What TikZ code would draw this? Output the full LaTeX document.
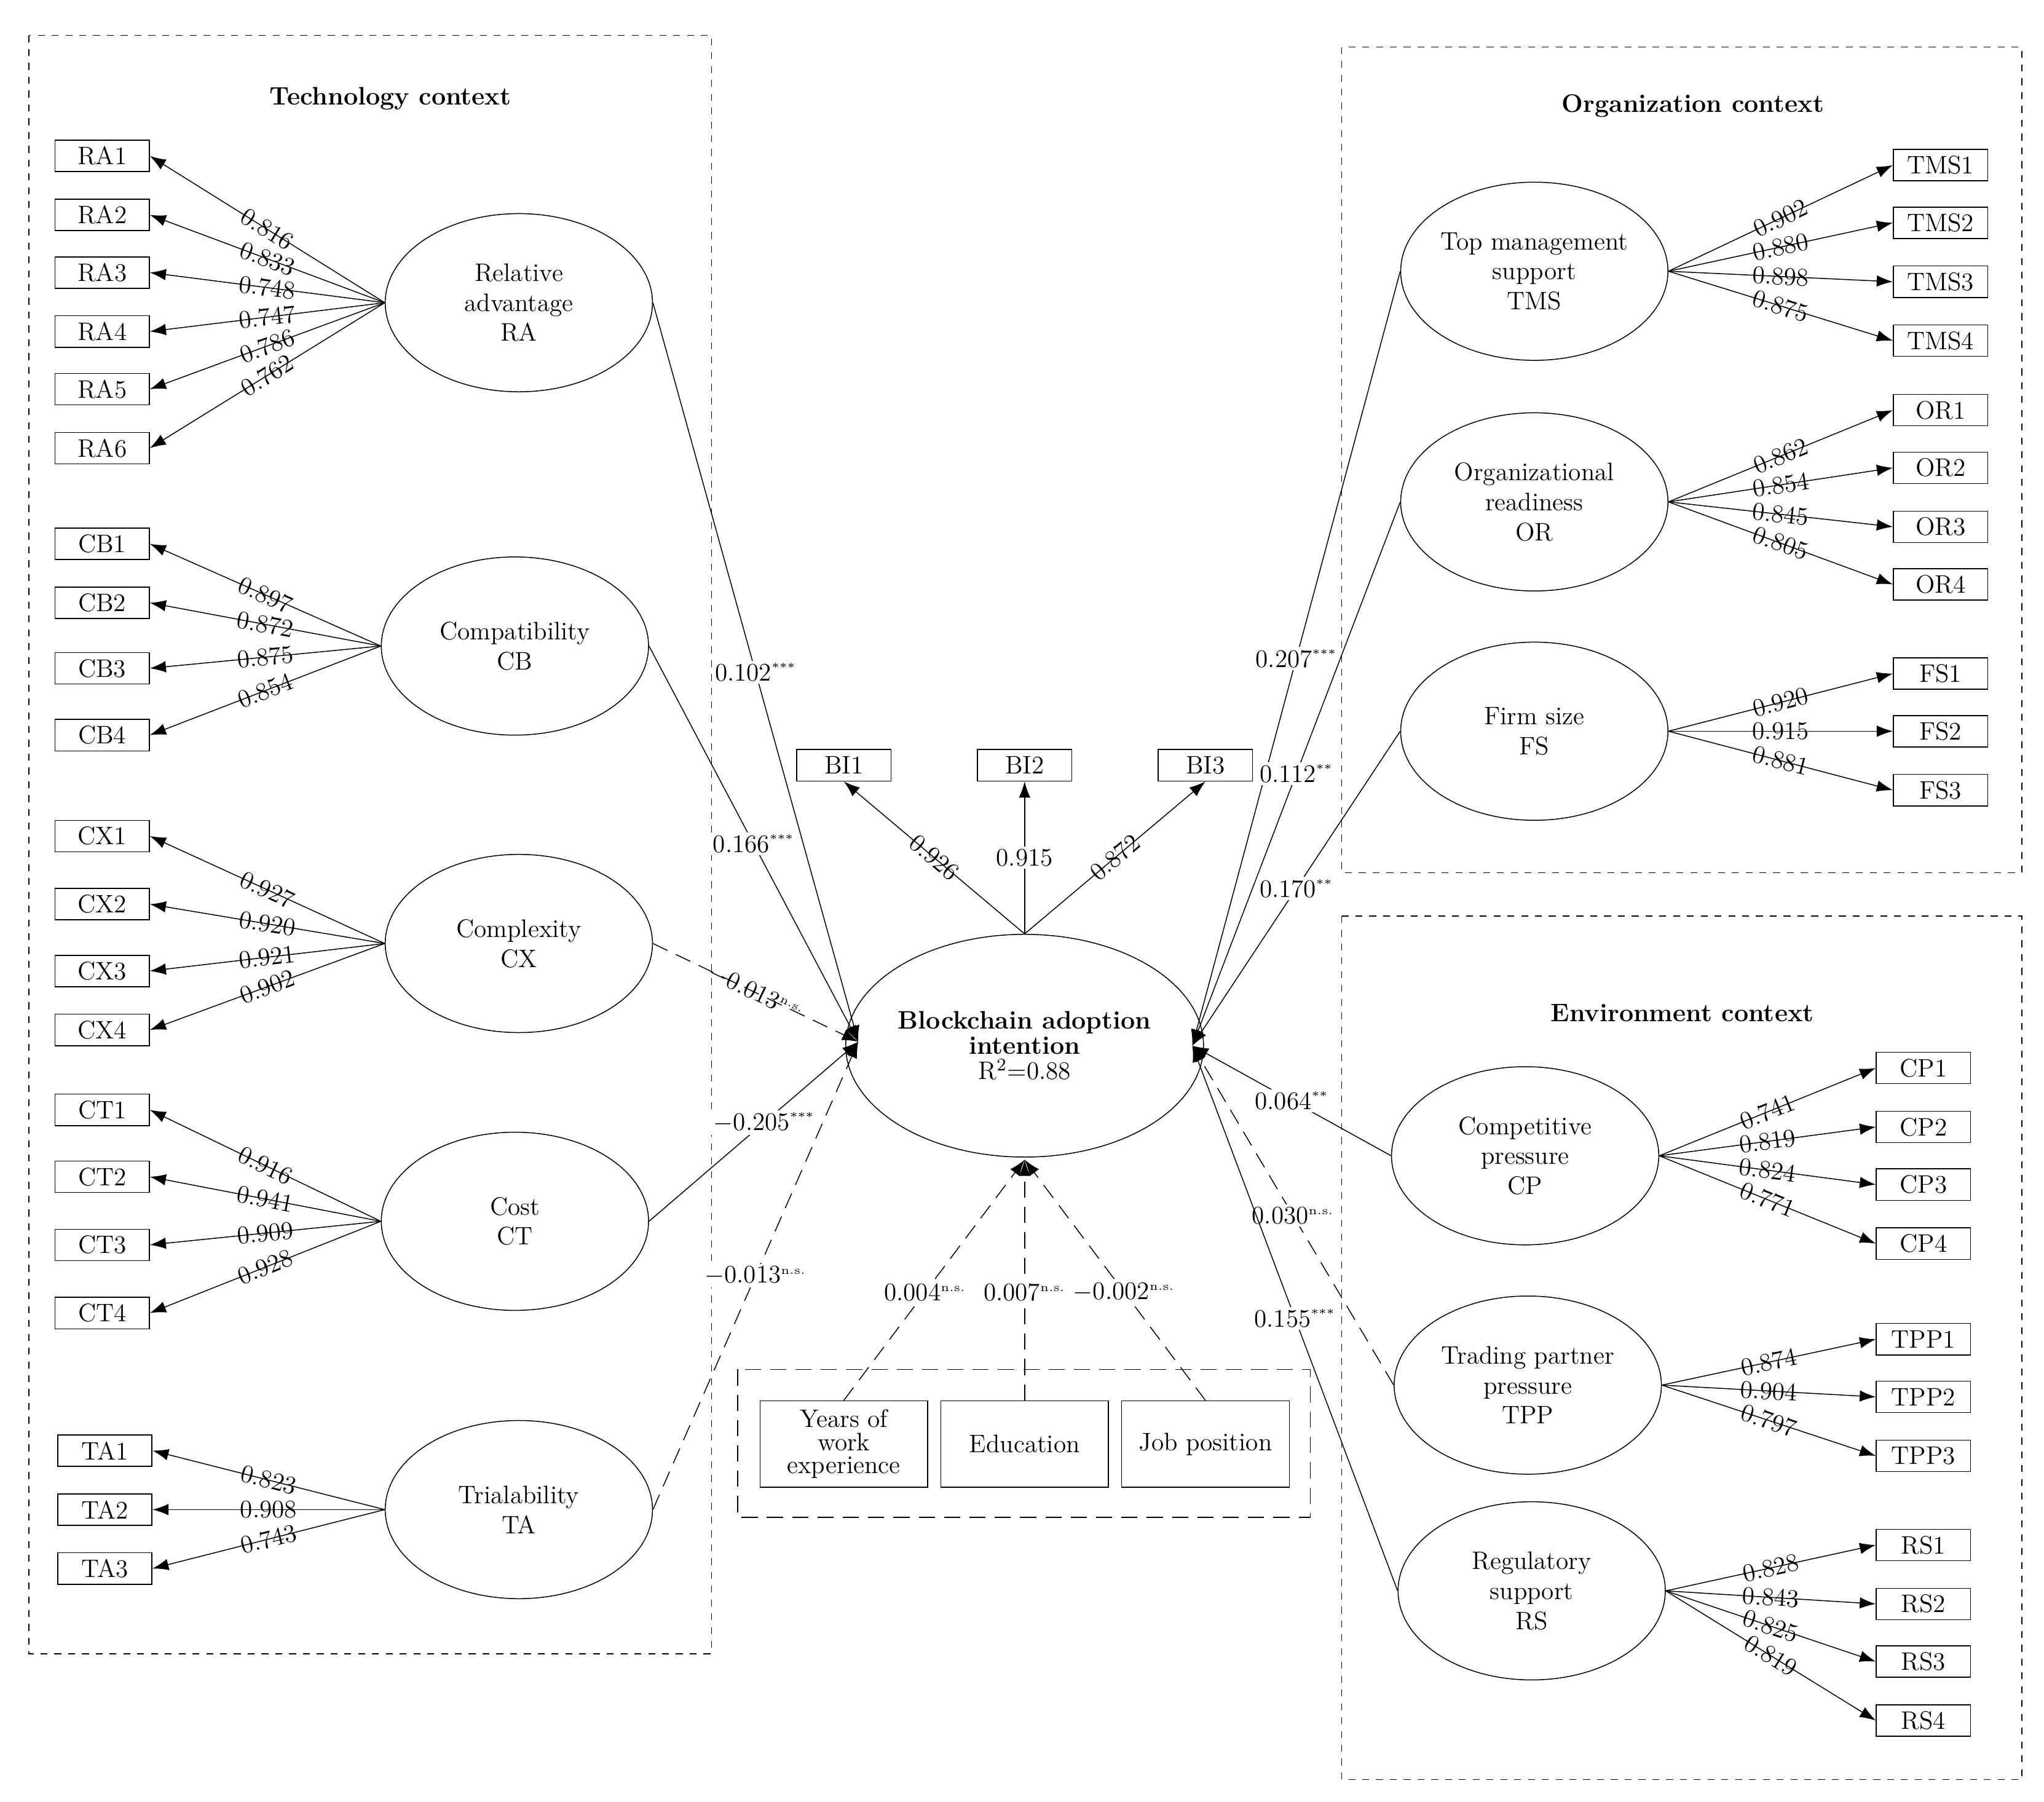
\documentclass[tikz,border=0pt]{standalone}
\usepackage{tikz}
\usetikzlibrary{arrows.meta,shapes.geometric}

\begin{document}
\begin{tikzpicture}[x=0.02cm,y=-0.02cm,>={Latex[length=7pt,width=5pt]},
    font=\fontsize{11}{13}\selectfont,
    ind/.style={draw,minimum width=1.44cm,minimum height=0.48cm,inner sep=1pt},
    lat/.style={draw,ellipse,minimum width=4.08cm,minimum height=2.72cm,align=center,inner sep=0pt},
    ctx/.style={draw,dashed},
    lod/.style={sloped,inner sep=0pt},
    ns/.style={dash pattern=on 7pt off 4pt},
    path/.style={fill=white,inner sep=1pt}]
  \useasboundingbox (0,0) rectangle (1560,1375);
  % context frames
  \draw[ctx] (22,27) rectangle (543,1262);
  \draw[ctx] (1024,36) rectangle (1543,666);
  \draw[ctx] (1024,699) rectangle (1543,1358);
  \draw[ns] (563,1045) rectangle (1000,1158);
  \node[font=\fontsize{11}{13}\selectfont\bfseries] at (298,75) {Technology context};
  \node[font=\fontsize{11}{13}\selectfont\bfseries] at (1292,81) {Organization context};
  \node[font=\fontsize{11}{13}\selectfont\bfseries] at (1284,773) {Environment context};

  % latent variables
  \node[lat] (RA) at (396,231) {Relative\\advantage\\RA};
  \node[lat] (CB) at (393,493) {Compatibility\\CB};
  \node[lat] (CX) at (396,720) {Complexity\\CX};
  \node[lat] (CT) at (393,932) {Cost\\CT};
  \node[lat] (TA) at (396,1152) {Trialability\\TA};
  \node[lat] (TMS) at (1171,207) {Top management\\support\\TMS};
  \node[lat] (OR) at (1171,383) {Organizational\\readiness\\OR};
  \node[lat] (FS) at (1171,558) {Firm size\\FS};
  \node[lat] (CP) at (1164,882) {Competitive\\pressure\\CP};
  \node[lat] (TPP) at (1166,1057) {Trading partner\\pressure\\TPP};
  \node[lat] (RS) at (1169,1214) {Regulatory\\support\\RS};
  \node[lat,minimum width=5.12cm,minimum height=3.4cm] (BI) at (782,798)
    {\textbf{Blockchain adoption}\\[-2pt]\textbf{intention}\\[-2pt]R\textsuperscript{2}=0.88};

  % indicators, left side
  \foreach \n/\y/\v in {1/119/0.816,2/164/0.833,3/208/0.748,4/253/0.747,5/297/0.786,6/342/0.762}
    {\node[ind] (RA\n) at (78,\y) {RA\n}; \draw[->] (RA.west) -- node[lod]{\v} (RA\n.east);}
  \foreach \n/\y/\v in {1/415/0.897,2/460/0.872,3/510/0.875,4/561/0.854}
    {\node[ind] (CB\n) at (78,\y) {CB\n}; \draw[->] (CB.west) -- node[lod]{\v} (CB\n.east);}
  \foreach \n/\y/\v in {1/638/0.927,2/690/0.920,3/741/0.921,4/786/0.902}
    {\node[ind] (CX\n) at (78,\y) {CX\n}; \draw[->] (CX.west) -- node[lod]{\v} (CX\n.east);}
  \foreach \n/\y/\v in {1/847/0.916,2/898/0.941,3/950/0.909,4/1002/0.928}
    {\node[ind] (CT\n) at (78,\y) {CT\n}; \draw[->] (CT.west) -- node[lod]{\v} (CT\n.east);}
  \foreach \n/\y/\v in {1/1107/0.823,2/1152/0.908,3/1197/0.743}
    {\node[ind] (TA\n) at (80,\y) {TA\n}; \draw[->] (TA.west) -- node[lod]{\v} (TA\n.east);}

  % indicators, right side
  \foreach \n/\y/\v in {1/126/0.902,2/170/0.880,3/215/0.898,4/260/0.875}
    {\node[ind] (TMS\n) at (1481,\y) {TMS\n}; \draw[->] (TMS.east) -- node[lod]{\v} (TMS\n.west);}
  \foreach \n/\y/\v in {1/313/0.862,2/357/0.854,3/402/0.845,4/446/0.805}
    {\node[ind] (OR\n) at (1481,\y) {OR\n}; \draw[->] (OR.east) -- node[lod]{\v} (OR\n.west);}
  \foreach \n/\y/\v in {1/514/0.920,2/558/0.915,3/603/0.881}
    {\node[ind] (FS\n) at (1481,\y) {FS\n}; \draw[->] (FS.east) -- node[lod]{\v} (FS\n.west);}
  \foreach \n/\y/\v in {1/815/0.741,2/860/0.819,3/904/0.824,4/949/0.771}
    {\node[ind] (CP\n) at (1468,\y) {CP\n}; \draw[->] (CP.east) -- node[lod]{\v} (CP\n.west);}
  \foreach \n/\y/\v in {1/1022/0.874,2/1066/0.904,3/1111/0.797}
    {\node[ind] (TPP\n) at (1468,\y) {TPP\n}; \draw[->] (TPP.east) -- node[lod]{\v} (TPP\n.west);}
  \foreach \n/\y/\v in {1/1179/0.828,2/1224/0.843,3/1268/0.825,4/1313/0.819}
    {\node[ind] (RS\n) at (1468,\y) {RS\n}; \draw[->] (RS.east) -- node[lod]{\v} (RS\n.west);}

  % outcome indicators
  \node[ind] (BI1) at (644,584) {BI1};
  \node[ind] (BI2) at (782,584) {BI2};
  \node[ind] (BI3) at (920,584) {BI3};
  \draw[->] (BI.north) -- node[lod]{0.926} (BI1.south);
  \draw[->] (BI.north) -- node[path]{0.915} (BI2.south);
  \draw[->] (BI.north) -- node[lod]{0.872} (BI3.south);

  % controls
  \node[draw,minimum width=2.56cm,minimum height=1.32cm,align=center,inner sep=0pt] (YW) at (644,1102) {Years of\\[-3pt]work\\[-3pt]experience};
  \node[draw,minimum width=2.56cm,minimum height=1.32cm] (ED) at (782,1102) {Education};
  \node[draw,minimum width=2.56cm,minimum height=1.32cm] (JP) at (920,1102) {Job position};
  \coordinate (BIs) at (782,885);
  \draw[->,ns] (YW.north) -- node[path,pos=0.45]{0.004\textsuperscript{\tiny n.s.}} (BIs);
  \draw[->,ns] (ED.north) -- node[path,pos=0.45]{0.007\textsuperscript{\tiny n.s.}} (BIs);
  \draw[->,ns] (JP.north) -- node[path,pos=0.45]{$-$0.002\textsuperscript{\tiny n.s.}} (BIs);

  % structural paths
  \coordinate (BIw) at (655,795);
  \coordinate (BIe) at (910,798);
  \draw[->] (RA.east) -- node[path,pos=0.5]{0.102\textsuperscript{\tiny ***}} (BIw);
  \draw[->] (CB.east) -- node[path,pos=0.5]{0.166\textsuperscript{\tiny ***}} (BIw);
  \draw[->,ns] (CX.east) -- node[lod]{$-$0.013\textsuperscript{\tiny n.s.}} (BIw);
  \draw[->] (CT.east) -- node[path,pos=0.55]{$-$0.205\textsuperscript{\tiny ***}} (BIw);
  \draw[->,ns] (TA.east) -- node[path,pos=0.5]{$-$0.013\textsuperscript{\tiny n.s.}} (BIw);
  \draw[->] (TMS.west) -- node[path,pos=0.5]{0.207\textsuperscript{\tiny ***}} (BIe);
  \draw[->] (OR.west) -- node[path,pos=0.5]{0.112\textsuperscript{\tiny **}} (BIe);
  \draw[->] (FS.west) -- node[path,pos=0.5]{0.170\textsuperscript{\tiny **}} (BIe);
  \draw[->] (CP.west) -- node[path,pos=0.5]{0.064\textsuperscript{\tiny **}} (BIe);
  \draw[->,ns] (TPP.west) -- node[path,pos=0.5]{0.030\textsuperscript{\tiny n.s.}} (BIe);
  \draw[->] (RS.west) -- node[path,pos=0.5]{0.155\textsuperscript{\tiny ***}} (BIe);
\end{tikzpicture}
\end{document}
